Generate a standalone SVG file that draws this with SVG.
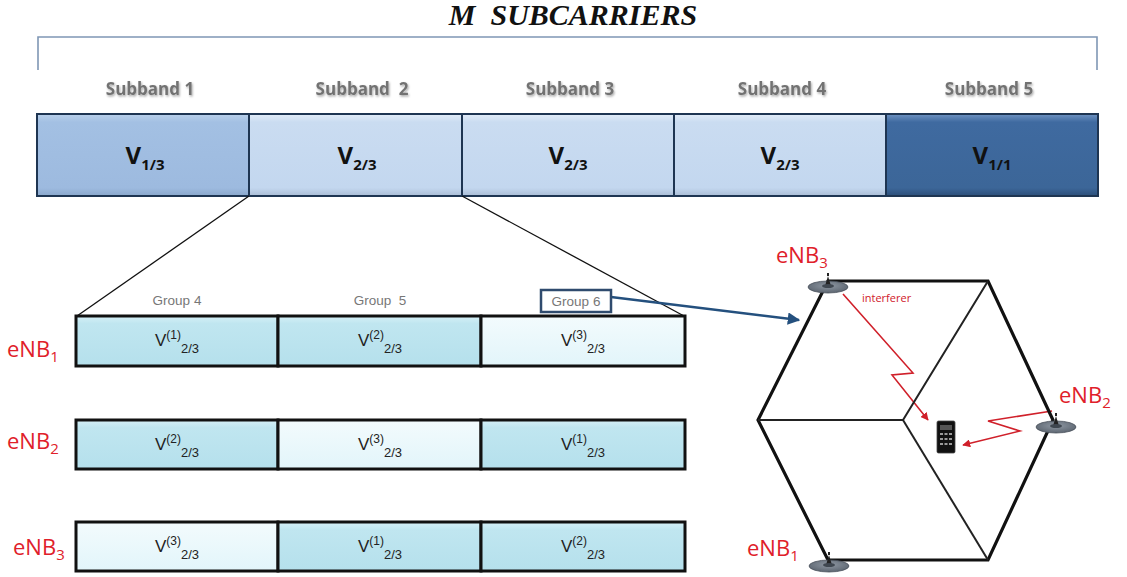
<svg xmlns="http://www.w3.org/2000/svg" width="1127" height="577" viewBox="0 0 1127 577">
  <defs>
    <linearGradient id="gMid" x1="0" y1="0" x2="0" y2="1">
      <stop offset="0" stop-color="#b9d0ea"/>
      <stop offset="0.1" stop-color="#a3c0e3"/>
      <stop offset="0.9" stop-color="#9dbadf"/>
      <stop offset="1" stop-color="#8aa8cc"/>
    </linearGradient>
    <linearGradient id="gLight" x1="0" y1="0" x2="0" y2="1">
      <stop offset="0" stop-color="#e2ecf8"/>
      <stop offset="0.1" stop-color="#cadcf1"/>
      <stop offset="0.9" stop-color="#c3d7ef"/>
      <stop offset="1" stop-color="#aabdd6"/>
    </linearGradient>
    <linearGradient id="gDark" x1="0" y1="0" x2="0" y2="1">
      <stop offset="0" stop-color="#6f93c2"/>
      <stop offset="0.1" stop-color="#3f6aa0"/>
      <stop offset="0.9" stop-color="#3c6698"/>
      <stop offset="1" stop-color="#2c4f7a"/>
    </linearGradient>
    <linearGradient id="gCyan" x1="0" y1="0" x2="0" y2="1">
      <stop offset="0" stop-color="#d6f0f7"/>
      <stop offset="0.15" stop-color="#c0e6f0"/>
      <stop offset="1" stop-color="#b5e0ec"/>
    </linearGradient>
    <linearGradient id="gPale" x1="0" y1="0" x2="0" y2="1">
      <stop offset="0" stop-color="#f3fbfd"/>
      <stop offset="1" stop-color="#e2f5fa"/>
    </linearGradient>
    <radialGradient id="gDisk" cx="0.5" cy="0.4" r="0.6">
      <stop offset="0" stop-color="#8f98a3"/>
      <stop offset="1" stop-color="#5c6570"/>
    </radialGradient>
    <filter id="shadow" x="-10%" y="-30%" width="130%" height="170%">
      <feDropShadow dx="1" dy="1.5" stdDeviation="1" flood-color="#000" flood-opacity="0.35"/>
    </filter>
    <marker id="arrBlue" viewBox="0 0 10 10" refX="9" refY="5" markerWidth="5" markerHeight="5" orient="auto">
      <path d="M0,0 L10,5 L0,10 z" fill="#24507e"/>
    </marker>
    <marker id="arrRed" viewBox="0 0 10 10" refX="9" refY="5" markerWidth="5" markerHeight="5" orient="auto">
      <path d="M0,0 L10,5 L0,10 z" fill="#d0202a"/>
    </marker>
    <g id="antenna">
      <ellipse cx="0" cy="0" rx="20" ry="6" fill="url(#gDisk)" stroke="#4a525c" stroke-width="0.8"/>
      <path d="M-3,-1 L0,-11 L3,-1 z M-1,-11 h2 v-3 h-2 z" fill="#222"/>
      <ellipse cx="0" cy="-1" rx="6" ry="2" fill="#3f4750"/>
    </g>
  </defs>
  <style>
    .title { font-family: "Liberation Serif", serif; font-style: italic; font-weight: bold; font-size: 30px; fill: #111; white-space: pre; }
    .sb { font-family: "Open Sans", "Liberation Sans", sans-serif; font-weight: bold; font-size: 17px; fill: #727272; white-space: pre; }
    .vbig { font-family: "Open Sans", "Liberation Sans", sans-serif; font-weight: bold; font-size: 24px; fill: #111; }
    .vsub { font-size: 15px; }
    .band { stroke: #1e3552; stroke-width: 2; }
    .cell { stroke: #111; stroke-width: 3; }
    .vs { font-family: "Liberation Sans", "Open Sans", sans-serif; font-size: 17px; fill: #222; }
    .sup { font-size: 12px; }
    .sub { font-size: 13px; }
    .grp { font-family: "Liberation Sans", "Open Sans", sans-serif; font-size: 13.5px; fill: #777; white-space: pre; }
    .enb { font-family: "Open Sans", "Liberation Sans", sans-serif; font-size: 22px; fill: #e0202a; }
    .enbsub { font-size: 15px; }
    .hexo { fill: none; stroke: #111; stroke-width: 3.2; stroke-linejoin: miter; }
    .hexi { fill: none; stroke: #222; stroke-width: 2; }
    .link { fill: none; stroke: #d0202a; stroke-width: 1.6; }
    .zoom { stroke: #111; stroke-width: 1.3; fill: none; }
  </style>

  <rect width="1127" height="577" fill="#ffffff"/>

  <!-- heading and span bracket -->
  <g id="heading">
    <text class="title" x="573" y="25" text-anchor="middle">M  SUBCARRIERS</text>
    <path d="M38,70 V37 H1097 V70" fill="none" stroke="#7f97b5" stroke-width="1.6"/>
  </g>

  <!-- subband bar -->
  <g id="subband1">
    <text class="sb" x="150" y="95" text-anchor="middle" filter="url(#shadow)">Subband 1</text>
    <rect class="band" x="37" y="114" width="212" height="82" fill="url(#gMid)"/>
    <text class="vbig" x="145" y="164" text-anchor="middle">V<tspan class="vsub" dy="6">1/3</tspan></text>
  </g>
  <g id="subband2">
    <text class="sb" x="362" y="95" text-anchor="middle" filter="url(#shadow)">Subband  2</text>
    <rect class="band" x="249" y="114" width="213" height="82" fill="url(#gLight)"/>
    <text class="vbig" x="357" y="164" text-anchor="middle">V<tspan class="vsub" dy="6">2/3</tspan></text>
  </g>
  <g id="subband3">
    <text class="sb" x="570" y="95" text-anchor="middle" filter="url(#shadow)">Subband 3</text>
    <rect class="band" x="462" y="114" width="212" height="82" fill="url(#gLight)"/>
    <text class="vbig" x="568" y="164" text-anchor="middle">V<tspan class="vsub" dy="6">2/3</tspan></text>
  </g>
  <g id="subband4">
    <text class="sb" x="782" y="95" text-anchor="middle" filter="url(#shadow)">Subband 4</text>
    <rect class="band" x="674" y="114" width="212" height="82" fill="url(#gLight)"/>
    <text class="vbig" x="780" y="164" text-anchor="middle">V<tspan class="vsub" dy="6">2/3</tspan></text>
  </g>
  <g id="subband5">
    <text class="sb" x="989" y="95" text-anchor="middle" filter="url(#shadow)">Subband 5</text>
    <rect class="band" x="886" y="114" width="212" height="82" fill="url(#gDark)"/>
    <text class="vbig" x="992" y="164" text-anchor="middle">V<tspan class="vsub" dy="6">1/1</tspan></text>
  </g>

  <!-- connectors -->
  <g id="connectors">
    <line class="zoom" x1="249" y1="196" x2="77" y2="316"/>
    <line class="zoom" x1="462" y1="196" x2="684" y2="316"/>
    <line x1="611" y1="297" x2="799" y2="320" stroke="#24507e" stroke-width="2.5" marker-end="url(#arrBlue)"/>
    <polyline class="link" points="843,294 913,373 892,375 928,420" marker-end="url(#arrRed)"/>
    <polyline class="link" points="1052,411 988,421 1020,431 963,445" marker-end="url(#arrRed)"/>
  </g>

  <!-- group labels -->
  <g id="groups">
    <text class="grp" x="177" y="305" text-anchor="middle">Group 4</text>
    <text class="grp" x="380" y="305" text-anchor="middle">Group  5</text>
    <rect x="541" y="290" width="70" height="22" fill="#ffffff" stroke="#2f4b6e" stroke-width="2.5"/>
    <text class="grp" x="576" y="306" text-anchor="middle">Group 6</text>
  </g>

  <!-- eNB1 row -->
  <g id="row-eNB1">
    <text class="enb" x="7" y="357">eNB<tspan class="enbsub" dy="5">1</tspan></text>
    <rect class="cell" x="76" y="316" width="202" height="50" fill="url(#gCyan)"/>
    <rect class="cell" x="278" y="316" width="203" height="50" fill="url(#gCyan)"/>
    <rect class="cell" x="481" y="316" width="204" height="50" fill="url(#gPale)"/>
    <text class="vs" x="177" y="346" text-anchor="middle">V<tspan class="sup" dy="-7">(1)</tspan><tspan class="sub" dy="14">2/3</tspan></text>
    <text class="vs" x="380" y="346" text-anchor="middle">V<tspan class="sup" dy="-7">(2)</tspan><tspan class="sub" dy="14">2/3</tspan></text>
    <text class="vs" x="583" y="346" text-anchor="middle">V<tspan class="sup" dy="-7">(3)</tspan><tspan class="sub" dy="14">2/3</tspan></text>
  </g>

  <!-- eNB2 row -->
  <g id="row-eNB2">
    <text class="enb" x="7" y="449">eNB<tspan class="enbsub" dy="5">2</tspan></text>
    <rect class="cell" x="76" y="420" width="202" height="49" fill="url(#gCyan)"/>
    <rect class="cell" x="278" y="420" width="203" height="49" fill="url(#gPale)"/>
    <rect class="cell" x="481" y="420" width="204" height="49" fill="url(#gCyan)"/>
    <text class="vs" x="177" y="450" text-anchor="middle">V<tspan class="sup" dy="-7">(2)</tspan><tspan class="sub" dy="14">2/3</tspan></text>
    <text class="vs" x="380" y="450" text-anchor="middle">V<tspan class="sup" dy="-7">(3)</tspan><tspan class="sub" dy="14">2/3</tspan></text>
    <text class="vs" x="583" y="450" text-anchor="middle">V<tspan class="sup" dy="-7">(1)</tspan><tspan class="sub" dy="14">2/3</tspan></text>
  </g>

  <!-- eNB3 row -->
  <g id="row-eNB3">
    <text class="enb" x="13" y="555">eNB<tspan class="enbsub" dy="5">3</tspan></text>
    <rect class="cell" x="76" y="522" width="202" height="49" fill="url(#gPale)"/>
    <rect class="cell" x="278" y="522" width="203" height="49" fill="url(#gCyan)"/>
    <rect class="cell" x="481" y="522" width="204" height="49" fill="url(#gCyan)"/>
    <text class="vs" x="177" y="552" text-anchor="middle">V<tspan class="sup" dy="-7">(3)</tspan><tspan class="sub" dy="14">2/3</tspan></text>
    <text class="vs" x="380" y="552" text-anchor="middle">V<tspan class="sup" dy="-7">(1)</tspan><tspan class="sub" dy="14">2/3</tspan></text>
    <text class="vs" x="583" y="552" text-anchor="middle">V<tspan class="sup" dy="-7">(2)</tspan><tspan class="sub" dy="14">2/3</tspan></text>
  </g>

  <!-- three-sector cell -->
  <g id="cell-layout">
    <polygon class="hexo" points="828,281 988,281 1053,420 988,560 828,560 758,420"/>
    <polyline class="hexi" points="988,281 903,420 758,420"/>
    <line class="hexi" x1="903" y1="420" x2="988" y2="560"/>
  </g>

  <g id="eNB3">
    <use href="#antenna" x="828" y="287"/>
    <text class="enb" x="776" y="263">eNB<tspan class="enbsub" dy="5">3</tspan></text>
    <text x="862" y="302" font-family="Open Sans, Liberation Sans, sans-serif" font-size="11" fill="#d0202a">interferer</text>
  </g>
  <g id="eNB2">
    <use href="#antenna" x="1056" y="427"/>
    <text class="enb" x="1059" y="403">eNB<tspan class="enbsub" dy="5">2</tspan></text>
  </g>
  <g id="eNB1">
    <use href="#antenna" x="829" y="566"/>
    <text class="enb" x="747" y="556">eNB<tspan class="enbsub" dy="5">1</tspan></text>
  </g>

  <!-- handset -->
  <g id="handset">
    <rect x="937" y="421" width="18" height="32" rx="1.5" fill="#111" stroke="#444" stroke-width="0.8"/>
    <rect x="940" y="425" width="12" height="5" fill="#555"/>
    <g fill="#9a9a9a">
      <rect x="940" y="433" width="3" height="2"/><rect x="944.5" y="433" width="3" height="2"/><rect x="949" y="433" width="3" height="2"/>
      <rect x="940" y="438" width="3" height="2"/><rect x="944.5" y="438" width="3" height="2"/><rect x="949" y="438" width="3" height="2"/>
      <rect x="940" y="443" width="3" height="2"/><rect x="944.5" y="443" width="3" height="2"/><rect x="949" y="443" width="3" height="2"/>
    </g>
  </g>
</svg>
